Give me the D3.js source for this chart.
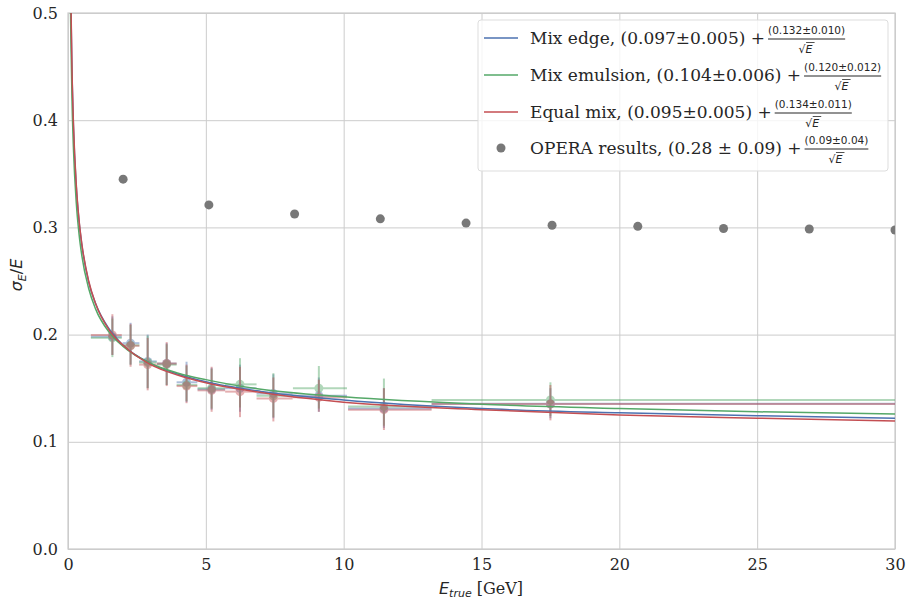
<!DOCTYPE html>
<html>
<head>
<meta charset="utf-8">
<script src="https://d3js.org/d3.v7.min.js"></script>
<style>
  body { margin: 0; background: #fff; }
  .tick text { font-family: "DejaVu Serif", serif; font-size: 16px; fill: #262626; }
</style>
</head>
<body>
<svg id="chart" width="907" height="601"></svg>
<script>
// fitted curves
const curveE    = [0.05, 0.07, 0.1, 0.15, 0.2, 0.3, 0.4, 0.5, 0.75, 1, 1.5, 2, 3, 4, 5, 7, 10, 15, 20, 25, 30];
const curveEdge = [0.687, 0.596, 0.514, 0.438, 0.392, 0.338, 0.306, 0.284, 0.249, 0.229, 0.205, 0.190, 0.173, 0.163, 0.156, 0.147, 0.139, 0.131, 0.127, 0.1243, 0.122];
const curveEmul = [0.641, 0.558, 0.484, 0.414, 0.372, 0.323, 0.294, 0.274, 0.243, 0.224, 0.202, 0.189, 0.173, 0.164, 0.158, 0.149, 0.142, 0.135, 0.131, 0.128, 0.126];
const curveEq   = [0.694, 0.601, 0.519, 0.441, 0.395, 0.340, 0.307, 0.285, 0.250, 0.229, 0.204, 0.190, 0.172, 0.162, 0.155, 0.146, 0.137, 0.130, 0.125, 0.122, 0.1195];

// binned points: centre and bin edges
const binE  = [1.61, 2.27, 2.89, 3.58, 4.30, 5.21, 6.24, 7.45, 9.10, 11.46, 17.5];
const binLo = [0.83, 1.98, 2.58, 3.23, 3.94, 4.70, 5.70, 6.84, 8.16, 10.16, 13.19];
const binHi = [1.95, 2.59, 3.22, 3.94, 4.69, 5.70, 6.84, 8.15, 10.12, 13.19, 35];

const edgeY   = [0.198, 0.192, 0.175, 0.173, 0.1555, 0.149, 0.150, 0.145, 0.143, 0.131, 0.1355];
const edgeLo  = [0.181, 0.172, 0.150, 0.153, 0.137, 0.130, 0.128, 0.122, 0.128, 0.113, 0.122];
const edgeHi  = [0.217, 0.211, 0.200, 0.192, 0.1747, 0.169, 0.172, 0.163, 0.160, 0.150, 0.150];
const emulY   = [0.197, 0.190, 0.174, 0.172, 0.153, 0.150, 0.1536, 0.143, 0.150, 0.133, 0.139];
const emulLo  = [0.179, 0.172, 0.150, 0.153, 0.138, 0.131, 0.132, 0.123, 0.131, 0.115, 0.124];
const emulHi  = [0.215, 0.209, 0.199, 0.191, 0.171, 0.168, 0.178, 0.164, 0.1707, 0.159, 0.1555];
const eqY     = [0.1996, 0.1896, 0.172, 0.173, 0.152, 0.148, 0.1468, 0.1405, 0.1415, 0.130, 0.1353];
const eqLo    = [0.181, 0.170, 0.148, 0.152, 0.136, 0.128, 0.123, 0.119, 0.128, 0.111, 0.120];
const eqHi    = [0.219, 0.210, 0.197, 0.193, 0.172, 0.170, 0.170, 0.160, 0.158, 0.150, 0.153];

// OPERA points
const operaE = [2.0, 5.11, 8.22, 11.33, 14.44, 17.56, 20.67, 23.78, 26.89, 30.0];
const operaY = [0.345, 0.321, 0.3125, 0.308, 0.304, 0.302, 0.301, 0.299, 0.2985, 0.2976];

const xTicks = [0, 5, 10, 15, 20, 25, 30];
const yTicks = [0.0, 0.1, 0.2, 0.3, 0.4, 0.5];

const legendText = ["Mix edge, (0.097\u00b10.005) + ", "Mix emulsion, (0.104\u00b10.006) + ",
                    "Equal mix, (0.095\u00b10.005) + ", "OPERA results, (0.28 \u00b1 0.09) + "];
const legendNum  = ["(0.132\u00b10.010)", "(0.120\u00b10.012)", "(0.134\u00b10.011)", "(0.09\u00b10.04)"];

const colors = { edge: "#4c72b0", emul: "#55a868", eq: "#c44e52", opera: "#787878" };

const svg = d3.select("#chart");
const margin = { top: 13, right: 12, bottom: 52, left: 68 };
const W = 907 - margin.left - margin.right;
const H = 601 - margin.top - margin.bottom;

const g = svg.append("g").attr("transform", "translate(" + margin.left + "," + margin.top + ")");

const x = d3.scaleLinear().domain([0, 30]).range([0, W]);
const y = d3.scaleLinear().domain([0, 0.5]).range([H, 0]);

svg.append("defs").append("clipPath").attr("id", "clip")
   .append("rect").attr("width", W).attr("height", H);

// grid + axes
const xAxis = g.append("g").attr("transform", "translate(0," + H + ")")
   .call(d3.axisBottom(x).tickValues(xTicks).tickSize(-H).tickPadding(10).tickFormat(d3.format("d")));
const yAxis = g.append("g")
   .call(d3.axisLeft(y).tickValues(yTicks).tickSize(-W).tickPadding(10).tickFormat(d3.format(".1f")));
[xAxis, yAxis].forEach(a => {
  a.select(".domain").remove();
  a.selectAll(".tick line").attr("stroke", "#cccccc").attr("stroke-width", 1);
});

g.append("rect").attr("width", W).attr("height", H)
 .attr("fill", "none").attr("stroke", "#cccccc").attr("stroke-width", 1.25);

const plot = g.append("g").attr("clip-path", "url(#clip)");

// error bars
const series = [
  { c: colors.edge, yv: edgeY, lo: edgeLo, hi: edgeHi },
  { c: colors.emul, yv: emulY, lo: emulLo, hi: emulHi },
  { c: colors.eq,   yv: eqY,   lo: eqLo,   hi: eqHi }
];
series.forEach(s => {
  const pts = binE.map((e, i) => ({ e: e, l: binLo[i], h: binHi[i], v: s.yv[i], lo: s.lo[i], hi: s.hi[i] }));
  const sg = plot.append("g").attr("opacity", 0.45);
  sg.selectAll("line.h").data(pts).join("line").attr("class", "h")
    .attr("x1", d => x(d.l)).attr("x2", d => x(d.h))
    .attr("y1", d => y(d.v)).attr("y2", d => y(d.v))
    .attr("stroke", s.c).attr("stroke-width", 2);
  sg.selectAll("line.v").data(pts).join("line").attr("class", "v")
    .attr("x1", d => x(d.e)).attr("x2", d => x(d.e))
    .attr("y1", d => y(d.lo)).attr("y2", d => y(d.hi))
    .attr("stroke", s.c).attr("stroke-width", 2);
  sg.selectAll("circle").data(pts).join("circle")
    .attr("cx", d => x(d.e)).attr("cy", d => y(d.v)).attr("r", 4.5)
    .attr("fill", s.c);
});

// fit curves
const line = d3.line().x(d => x(d[0])).y(d => y(d[1])).curve(d3.curveMonotoneX);
[[curveEdge, colors.edge], [curveEmul, colors.emul], [curveEq, colors.eq]].forEach(([vals, c]) => {
  plot.append("path").datum(curveE.map((e, i) => [e, vals[i]]))
      .attr("d", line).attr("fill", "none").attr("stroke", c).attr("stroke-width", 1.5);
});

// OPERA
plot.selectAll("circle.opera").data(operaE.map((e, i) => [e, operaY[i]])).join("circle")
    .attr("class", "opera")
    .attr("cx", d => x(d[0])).attr("cy", d => y(d[1])).attr("r", 4.5)
    .attr("fill", colors.opera);

// axis labels
const ylab = svg.append("text").attr("transform", "translate(22,275) rotate(-90)")
   .attr("text-anchor", "middle").attr("font-family", "DejaVu Sans").attr("font-size", 16)
   .attr("fill", "#262626");
ylab.append("tspan").attr("font-style", "italic").text("\u03c3");
ylab.append("tspan").attr("font-style", "italic").attr("font-size", 11).attr("dy", 4).text("E");
ylab.append("tspan").attr("dy", -4).text("/");
ylab.append("tspan").attr("font-style", "italic").text("E");

const xlab = svg.append("text").attr("x", 481).attr("y", 594)
   .attr("text-anchor", "middle").attr("font-size", 16).attr("fill", "#262626");
xlab.append("tspan").attr("font-family", "DejaVu Sans").attr("font-style", "italic").text("E");
xlab.append("tspan").attr("font-family", "DejaVu Sans").attr("font-style", "italic")
    .attr("font-size", 11).attr("dy", 3).text("true");
xlab.append("tspan").attr("font-family", "DejaVu Serif").attr("dy", -3).text(" [GeV]");

// legend
const leg = svg.append("g");
leg.append("rect").attr("x", 478).attr("y", 20).attr("width", 410).attr("height", 151)
   .attr("rx", 3).attr("fill", "#fff").attr("fill-opacity", 0.8)
   .attr("stroke", "#dddddd").attr("stroke-width", 1);
const rowY = [38, 75, 112, 148];
const legColors = [colors.edge, colors.emul, colors.eq, colors.opera];
legendText.forEach((t, i) => {
  const cy = rowY[i];
  if (i < 3) {
    leg.append("line").attr("x1", 484).attr("x2", 518).attr("y1", cy).attr("y2", cy)
       .attr("stroke", legColors[i]).attr("stroke-width", 1.5);
  } else {
    leg.append("circle").attr("cx", 501).attr("cy", cy).attr("r", 4.5).attr("fill", legColors[i]);
  }
  const tx = leg.append("text").attr("x", 530).attr("y", cy + 6)
     .attr("font-family", "DejaVu Serif").attr("font-size", 17).attr("fill", "#262626").text(t);
  const fx = 530 + tx.node().getComputedTextLength() + 3;
  const num = leg.append("text").attr("x", fx).attr("y", cy - 4)
     .attr("font-family", "DejaVu Sans").attr("font-size", 10.5).attr("fill", "#262626").text(legendNum[i]);
  const nw = num.node().getComputedTextLength();
  leg.append("line").attr("x1", fx).attr("x2", fx + nw).attr("y1", cy + 1).attr("y2", cy + 1)
     .attr("stroke", "#262626").attr("stroke-width", 1.2);
  const den = leg.append("text").attr("x", fx + nw / 2 - 8).attr("y", cy + 15)
     .attr("font-family", "DejaVu Sans").attr("font-size", 11).attr("fill", "#262626");
  den.append("tspan").text("\u221a");
  den.append("tspan").attr("font-style", "italic").text("E");
  leg.append("line").attr("x1", fx + nw / 2 - 0.5).attr("x2", fx + nw / 2 + 8)
     .attr("y1", cy + 4.5).attr("y2", cy + 4.5).attr("stroke", "#262626").attr("stroke-width", 0.8);
});
</script>
</body>
</html>
